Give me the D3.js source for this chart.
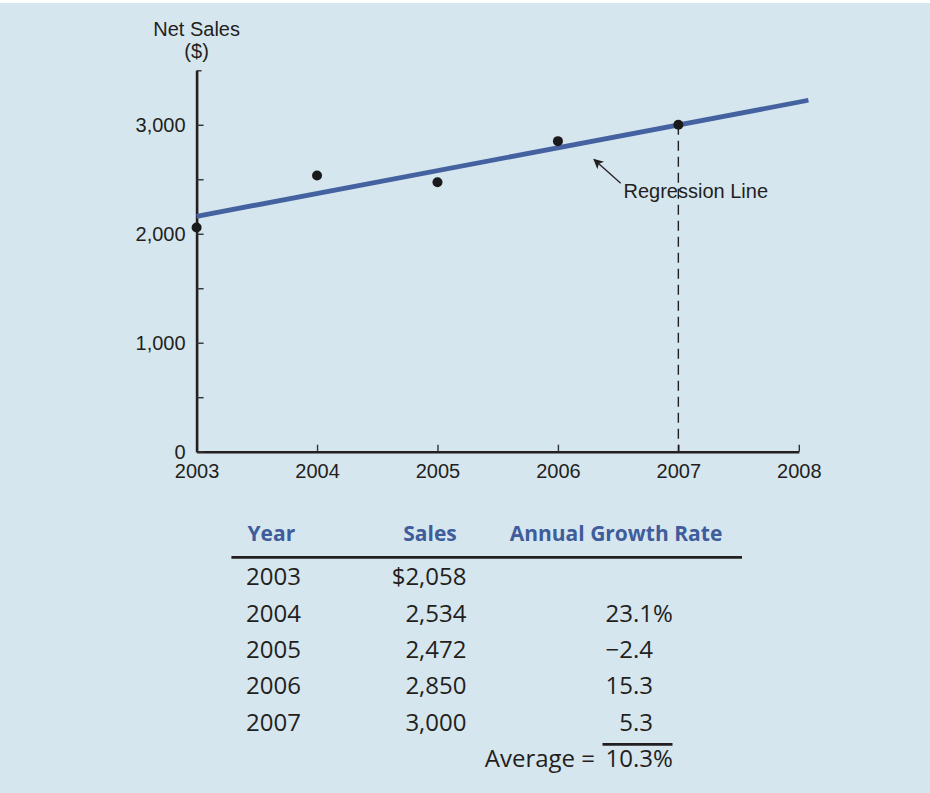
<!DOCTYPE html>
<html>
<head>
<meta charset="utf-8">
<script src="https://cdn.jsdelivr.net/npm/d3@7"></script>
<style>
  html, body { margin: 0; padding: 0; background: #ffffff; }
  svg { display: block; }
</style>
</head>
<body>
<svg id="chart" width="930" height="793"></svg>
<script>
// ---- data ----
const years = [2003, 2004, 2005, 2006, 2007];
const sales = [2058, 2534, 2472, 2850, 3000];
const growthRates = [null, 23.1, -2.4, 15.3, 5.3];
const averageGrowth = 10.3;
const xTickValues = [2003, 2004, 2005, 2006, 2007, 2008];
const yTickValues = [0, 500, 1000, 1500, 2000, 2500, 3000, 3500];
const yTickLabels = ["0", "", "1,000", "", "2,000", "", "3,000", ""];
// regression line as drawn in the figure (year, sales)
const regressionYears = [2003, 2008.08];
const regressionValues = [2160, 3225];
const tableHeaders = ["Year", "Sales", "Annual Growth Rate"];

// ---- setup ----
const svg = d3.select("#chart");
const W = 930, H = 793;
const bg = "#d6e6ef";
const ink = "#231f20";
const blue = "#4462a0";
const headBlue = "#3f5c9b";
const axisFont = "'Liberation Sans', Arial, Helvetica, sans-serif";
const tableFont = "'Open Sans', 'Noto Sans', sans-serif";

svg.append("rect").attr("x", 0).attr("y", 0).attr("width", W).attr("height", H).attr("fill", "#ffffff");
svg.append("rect").attr("x", 0).attr("y", 3).attr("width", W).attr("height", H - 3).attr("fill", bg);

const x = d3.scaleLinear().domain([2003, 2008]).range([196.6, 798.8]);
const y = d3.scaleLinear().domain([0, 3500]).range([451.7, 70.3]);

// ---- axes ----
const xAxis = d3.axisBottom(x)
  .tickValues(xTickValues)
  .tickFormat(d3.format("d"))
  .tickSizeInner(-7)
  .tickSizeOuter(0)
  .tickPadding(12);

const yAxis = d3.axisLeft(y)
  .tickValues(yTickValues)
  .tickFormat((d, i) => yTickLabels[i])
  .tickSizeInner(-7)
  .tickSizeOuter(0)
  .tickPadding(11);

const gx = svg.append("g").attr("transform", `translate(0,${y(0)})`).call(xAxis);
const gy = svg.append("g").attr("transform", `translate(${x(2003)},0)`).call(yAxis);

[gx, gy].forEach(g => {
  g.select(".domain").attr("stroke", ink).attr("stroke-width", 2.6);
  g.selectAll(".tick line").attr("stroke", "#333").attr("stroke-width", 1.4);
  g.selectAll(".tick text")
    .attr("fill", ink)
    .style("font-family", axisFont)
    .style("font-size", "20px");
});
gy.selectAll(".tick").filter(d => d === 3500).select("line").attr("x2", 5);

// y-axis title
const yTitle = svg.append("text")
  .attr("text-anchor", "middle")
  .attr("fill", ink)
  .style("font-family", axisFont)
  .style("font-size", "20px");
yTitle.append("tspan").attr("x", x(2003)).attr("y", 36).text("Net Sales");
yTitle.append("tspan").attr("x", x(2003)).attr("y", 58).text("($)");

// ---- regression ----
const n = years.length;
const regLine = d3.line().x(d => x(d[0])).y(d => y(d[1]));

// dashed drop line from last point
svg.append("line")
  .attr("x1", x(years[n - 1])).attr("x2", x(years[n - 1]))
  .attr("y1", y(sales[n - 1])).attr("y2", y(0))
  .attr("stroke", ink).attr("stroke-width", 1.4)
  .attr("stroke-dasharray", "10,6");

svg.append("path")
  .datum(regressionYears.map((d, i) => [d, regressionValues[i]]))
  .attr("d", regLine)
  .attr("fill", "none")
  .attr("stroke", blue)
  .attr("stroke-width", 4.8);

// points
svg.append("g").selectAll("circle")
  .data(years)
  .join("circle")
  .attr("cx", d => x(d))
  .attr("cy", (d, i) => y(sales[i]))
  .attr("r", 5)
  .attr("fill", "#1a1a1a");

// annotation
const defs = svg.append("defs");
defs.append("marker")
  .attr("id", "arrow")
  .attr("viewBox", "0 0 10 10")
  .attr("refX", 9).attr("refY", 5)
  .attr("markerWidth", 13).attr("markerHeight", 10)
  .attr("markerUnits", "userSpaceOnUse")
  .attr("orient", "auto")
  .append("path")
  .attr("d", "M0,0 L10,5 L0,10 L2.5,5 Z")
  .attr("fill", ink);

svg.append("line")
  .attr("x1", 620.7).attr("y1", 183.3)
  .attr("x2", 594).attr("y2", 159.5)
  .attr("stroke", ink).attr("stroke-width", 1.3)
  .attr("marker-end", "url(#arrow)");

svg.append("text")
  .attr("x", 623.5).attr("y", 198.3)
  .attr("fill", ink)
  .style("font-family", axisFont)
  .style("font-size", "20px")
  .text("Regression Line");

// ---- table ----
const colYearX = 246;
const colSalesX = 466.5;
const colGrowthX = 653;
const headerY = 540.7;
const rowY0 = 585.3, rowStep = 36.35;

const head = svg.append("g")
  .attr("fill", headBlue)
  .style("font-family", tableFont)
  .style("font-weight", 700)
  .style("font-size", "21px");
head.append("text").attr("x", 247.5).attr("y", headerY).attr("text-anchor", "start").text(tableHeaders[0]);
head.append("text").attr("x", 430).attr("y", headerY).attr("text-anchor", "middle").text(tableHeaders[1]);
head.append("text").attr("x", 616).attr("y", headerY).attr("text-anchor", "middle").text(tableHeaders[2]);

svg.append("line")
  .attr("x1", 231.4).attr("x2", 742)
  .attr("y1", 557.3).attr("y2", 557.3)
  .attr("stroke", ink).attr("stroke-width", 2.8);

const rows = svg.append("g")
  .attr("fill", ink)
  .style("font-family", tableFont)
  .style("font-size", "24px");

const fmt = d3.format(",");
const rowG = rows.selectAll("g.row")
  .data(years)
  .join("g")
  .attr("class", "row")
  .attr("transform", (d, i) => `translate(0,${rowY0 + i * rowStep})`);

rowG.append("text").attr("x", colYearX).attr("text-anchor", "start").text(d => d);
rowG.append("text").attr("x", colSalesX).attr("text-anchor", "end")
  .text((d, i) => (i === 0 ? "$" : "") + fmt(sales[i]));
rowG.append("text").attr("x", colGrowthX).attr("text-anchor", "end")
  .text((d, i) => growthRates[i] === null ? "" : (growthRates[i] < 0 ? "\u2212" + Math.abs(growthRates[i]).toFixed(1) : growthRates[i].toFixed(1)));
rowG.append("text").attr("x", colGrowthX).attr("text-anchor", "start")
  .text((d, i) => i === 1 ? "%" : "");

// average
const avgY = 766.7;
svg.append("line")
  .attr("x1", 602.5).attr("x2", 672.5)
  .attr("y1", 744.3).attr("y2", 744.3)
  .attr("stroke", ink).attr("stroke-width", 2.8);
rows.append("text").attr("x", 595).attr("y", avgY).attr("text-anchor", "end").text("Average =");
rows.append("text").attr("x", colGrowthX).attr("y", avgY).attr("text-anchor", "end").text(averageGrowth.toFixed(1));
rows.append("text").attr("x", colGrowthX).attr("y", avgY).attr("text-anchor", "start").text("%");
</script>
</body>
</html>
